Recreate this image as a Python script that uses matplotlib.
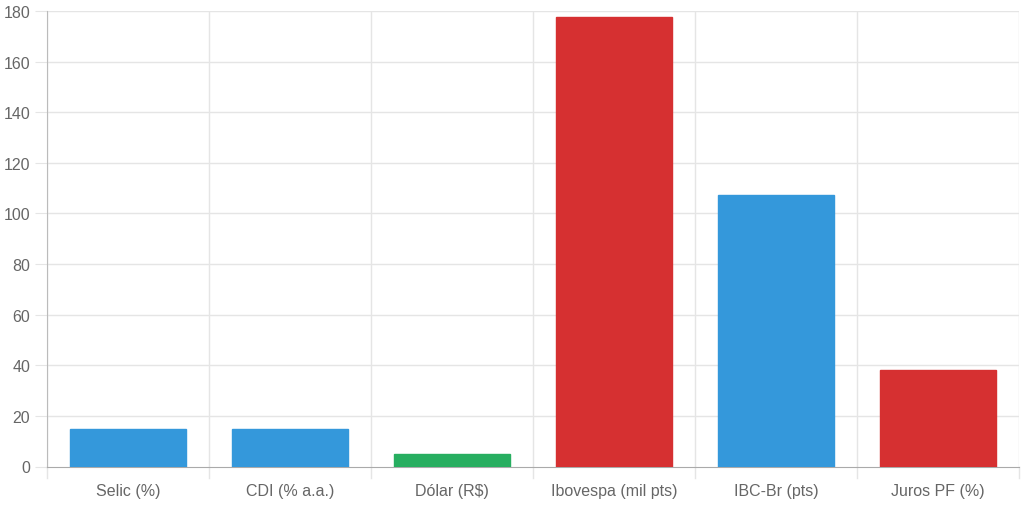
import matplotlib
matplotlib.use("Agg")
import matplotlib.pyplot as plt
import numpy as np

labels = ["Selic (%)", "CDI (% a.a.)", "Dólar (R$)", "Ibovespa (mil pts)", "IBC-Br (pts)", "Juros PF (%)"]
values = [15.0, 14.9, 5.1, 177.6, 107.2, 38.0]
colors = ["#3498db", "#3498db", "#27ae60", "#d63031", "#3498db", "#d63031"]

plt.rcParams['font.family'] = ['Liberation Sans', 'DejaVu Sans']

fig = plt.figure(figsize=(10.24, 5.06), dpi=100)
ax = fig.add_axes([47 / 1024, 38.5 / 506, 972 / 1024, 455.5 / 506])

x = np.arange(len(labels))
ax.bar(x, values, width=0.72, color=colors, edgecolor=colors, linewidth=1, zorder=3)

ax.set_xlim(-0.5, len(labels) - 0.5)
ax.set_ylim(0, 180)
ax.set_yticks(range(0, 181, 20))
ax.set_xticks(x)
ax.set_xticklabels(labels)

# grid lines between categories, like chart.js
for b in np.arange(-0.5, len(labels), 1.0):
    ax.axvline(b, color="#e5e5e5", lw=1, zorder=1)
    ax.plot([b, b], [0, -0.025], transform=ax.get_xaxis_transform(), color="#e5e5e5",
            lw=1, clip_on=False, zorder=1)
for yv in range(20, 181, 20):
    ax.axhline(yv, color="#e5e5e5", lw=1, zorder=1)

for s in ["top", "right"]:
    ax.spines[s].set_visible(False)
ax.spines["left"].set_color("#bbbbbb")
ax.spines["bottom"].set_color("#aaaaaa")
ax.tick_params(axis="y", length=9, color="#e5e5e5", labelsize=11.5, labelcolor="#666666", pad=3)
ax.tick_params(axis="x", length=0, labelsize=11.5, labelcolor="#666666", pad=12)

fig.savefig("out.png", dpi=100)
